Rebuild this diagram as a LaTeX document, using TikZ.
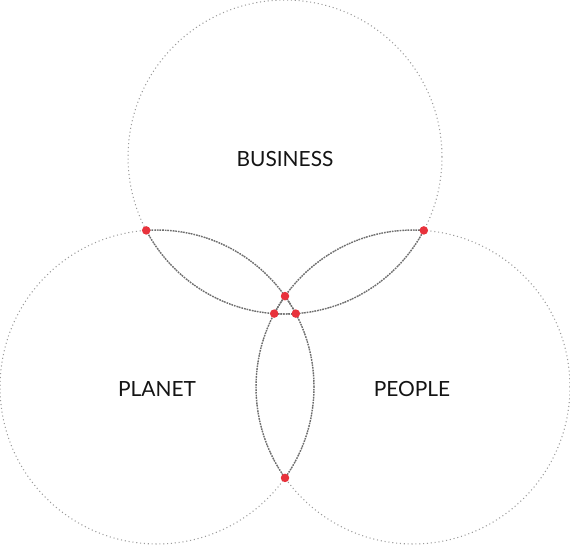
\documentclass[tikz,border=0pt]{standalone}
\usepackage{fontspec}
\setmainfont{Lato}
\usepackage{tikz}
\usetikzlibrary{backgrounds,calc}
\definecolor{dotred}{HTML}{E8323C}
\definecolor{ringgray}{HTML}{9A9A9A}
\definecolor{lensgray}{HTML}{6E6E6E}
\tikzset{
  ring/.style={ringgray, line width=0.6pt, dash pattern=on 0.6pt off 1.6pt},
  lens/.style={lensgray, line width=0.8pt, dash pattern=on 0.9pt off 0.6pt},
  label/.style={font=\fontsize{11.9}{14}\selectfont, text=black!92},
  meet/.style={circle, fill=dotred, inner sep=0pt, minimum size=0.17cm}
}

\begin{document}
\begin{tikzpicture}[x=0.02cm,y=-0.02cm]
\useasboundingbox (0,0) rectangle (570,545);
\coordinate (cBusiness) at (285,157);
\coordinate (cPlanet) at (157,387);
\coordinate (cPeople) at (413,387);
% outer rings
\foreach \c in {cBusiness,cPlanet,cPeople}
  \draw[ring] (\c) circle[radius=3.14cm];
% parts of each ring lying inside another ring
\foreach \a/\b in {cBusiness/cPlanet,cBusiness/cPeople,cPlanet/cBusiness,cPlanet/cPeople,cPeople/cBusiness,cPeople/cPlanet}{
  \begin{scope}
    \clip (\b) circle[radius=3.14cm];
    \draw[lens] (\a) circle[radius=3.14cm];
  \end{scope}
}
\node[label] (business) at (285,159) {BUSINESS};
\node[label] (planet) at (157,389) {PLANET};
\node[label] (people) at (412,389) {PEOPLE};
% intersection points
\node[meet] (bpl1) at (146.2,230.4) {};
\node[meet] (bpl2) at (295.8,313.6) {};
\node[meet] (bpe1) at (423.8,230.4) {};
\node[meet] (bpe2) at (274.2,313.6) {};
\node[meet] (ppl1) at (285,296.1) {};
\node[meet] (ppl2) at (285,477.9) {};
\end{tikzpicture}
\end{document}
